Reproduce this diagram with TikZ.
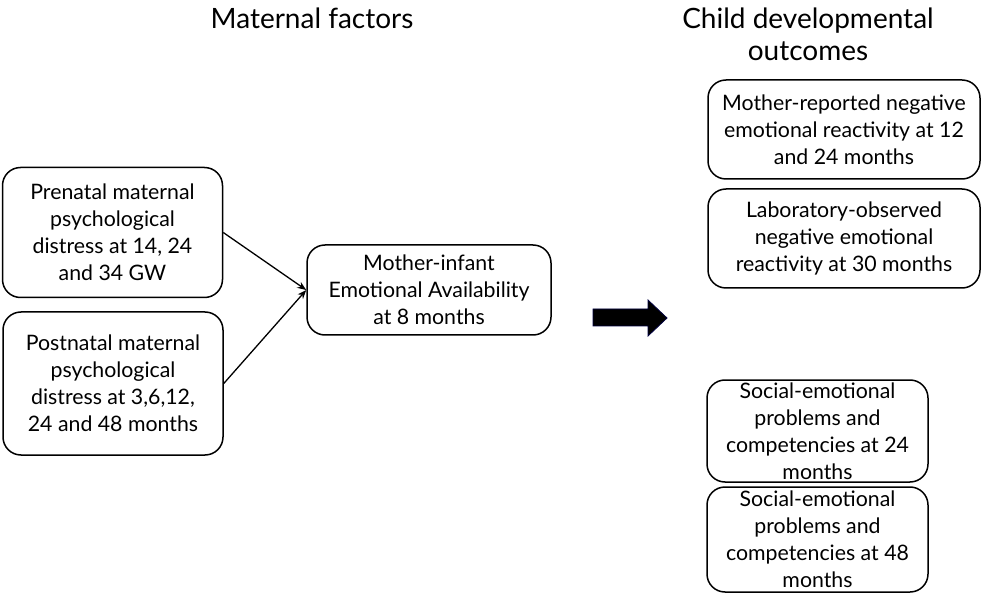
\documentclass[tikz,border=0pt]{standalone}
\usepackage{fontspec}
\setmainfont{Lato}
\usetikzlibrary{arrows.meta}
\tikzset{
  box/.style={draw=black, line width=1.5pt, rounded corners=18pt, align=center,
    inner sep=0pt, font=\fontsize{21.3}{27}\selectfont},
  title/.style={align=center, font=\fontsize{28}{32}\selectfont, inner sep=0pt},
  conn/.style={line width=1.3pt, -{Stealth[length=9pt,width=7pt]}},
  bigarrow/.style={fill=black, draw=black!75!blue, line width=0.8pt, line join=miter}
}
\begin{document}
\begin{tikzpicture}[x=1pt,y=-1pt]
\useasboundingbox (0,0) rectangle (982,593);
\node[title] (tmat) at (312,18) {Maternal factors};
\node[title] (tchild) at (808,34) {Child developmental\\outcomes};
\node[box, minimum width=220pt, minimum height=130pt] (pre) at (112.5,232.5)
  {Prenatal maternal\\psychological\\distress at 14, 24\\and 34 GW};
\node[box, minimum width=220pt, minimum height=143pt] (post) at (113,383.5)
  {Postnatal maternal\\psychological\\distress at 3,6,12,\\24 and 48 months};
\node[box, minimum width=244pt, minimum height=90pt] (mi) at (429,290)
  {Mother-infant\\Emotional Availability\\at 8 months};
\node[box, minimum width=272pt, minimum height=99pt] (mr) at (844,129.5)
  {Mother-reported negative\\emotional reactivity at 12\\and 24 months};
\node[box, minimum width=272pt, minimum height=99pt] (lab) at (844,238.5)
  {Laboratory-observed\\negative emotional\\reactivity at 30 months};
\node[box, minimum width=221pt, minimum height=102pt] (s24) at (817.5,431)
  {Social-emotional\\problems and\\competencies at 24\\months};
\node[box, minimum width=221pt, minimum height=105pt] (s48) at (817.5,539.5)
  {Social-emotional\\problems and\\competencies at 48\\months};
\draw[bigarrow] (593,309) -- (648,309) -- (648,300) -- (667,318) -- (648,336)
  -- (648,326) -- (593,326) -- cycle;
\draw[conn] (pre.east) -- (mi.west);
\draw[conn] (post.east) -- (mi.west);
\end{tikzpicture}
\end{document}
